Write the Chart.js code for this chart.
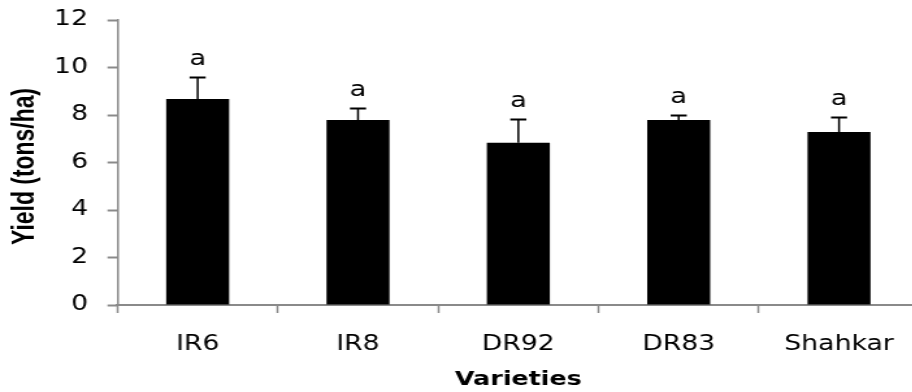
<!DOCTYPE html>
<html>
<head>
<meta charset="utf-8">
<script src="https://cdn.jsdelivr.net/npm/chart.js@4"></script>
<style>
  html, body { margin: 0; padding: 0; background: #fff; overflow: hidden; }
  #wrap { width: 924px; height: 392px; }
  /* the drawing is laid out narrow and widened horizontally on screen */
  #c { display: block; }
</style>
</head>
<body>
<div id="wrap"><canvas id="c" width="711" height="392" style="width:924px;height:392px"></canvas></div>
<script>
// Rice varieties and mean grain yield (tons/ha)
const varieties = ['IR6', 'IR8', 'DR92', 'DR83', 'Shahkar'];
const yieldMeans = [8.67, 7.79, 6.83, 7.79, 7.28];
const yieldErrors = [0.94, 0.52, 0.99, 0.22, 0.64];
const groupLetters = ['a', 'a', 'a', 'a', 'a'];
const yTickValues = [0, 2, 4, 6, 8, 10, 12];

const AXIS_GREY = '#8a8a8a';
const TEXT_FONT = "'DejaVu Sans', Verdana, sans-serif";

// Upper error bars and significance letters above each bar
const errorBarPlugin = {
  id: 'errorBars',
  afterDatasetsDraw(chart) {
    const ctx = chart.ctx;
    const y = chart.scales.y;
    const meta = chart.getDatasetMeta(0);
    ctx.save();
    ctx.strokeStyle = '#000';
    ctx.fillStyle = '#000';
    ctx.font = '21px ' + TEXT_FONT;
    ctx.textAlign = 'center';
    ctx.textBaseline = 'alphabetic';
    meta.data.forEach((bar, i) => {
      const x = bar.x;
      const yBase = y.getPixelForValue(yieldMeans[i]);
      const yTop = Math.round(y.getPixelForValue(yieldMeans[i] + yieldErrors[i])) + 0.5;
      ctx.lineWidth = 1.5;
      ctx.beginPath();
      ctx.moveTo(x, yBase);
      ctx.lineTo(x, yTop);
      ctx.stroke();
      ctx.lineWidth = 2;
      ctx.beginPath();
      ctx.moveTo(x - 6.2, yTop);
      ctx.lineTo(x + 6.2, yTop);
      ctx.stroke();
      ctx.fillText(groupLetters[i], x, yTop - 13);
    });
    ctx.restore();
  }
};

// Rotated y-axis title
const yTitlePlugin = {
  id: 'yTitle',
  afterDraw(chart) {
    const ctx = chart.ctx;
    const text = 'Yield (tons/ha)';
    ctx.save();
    ctx.font = "bold 23px 'Liberation Sans', Arial, sans-serif";
    const w = ctx.measureText(text).width;
    ctx.translate(25.8, 166.5);
    ctx.rotate(-Math.PI / 2);
    ctx.scale(157 / w, 1);
    ctx.fillStyle = '#000';
    ctx.textAlign = 'center';
    ctx.textBaseline = 'alphabetic';
    ctx.fillText(text, 0, 0);
    ctx.restore();
  }
};

new Chart(document.getElementById('c'), {
  type: 'bar',
  data: {
    labels: varieties,
    datasets: [{
      data: yieldMeans,
      backgroundColor: '#000',
      borderWidth: 0,
      categoryPercentage: 1.0,
      barPercentage: 0.393
    }]
  },
  options: {
    responsive: false,
    animation: false,
    devicePixelRatio: 1,
    layout: { padding: { left: 0, right: 3.7, top: 20, bottom: 0 } },
    plugins: { legend: { display: false }, tooltip: { enabled: false } },
    scales: {
      x: {
        grid: {
          offset: true,
          drawOnChartArea: false,
          drawTicks: true,
          tickLength: 8,
          tickWidth: 1.5,
          tickColor: AXIS_GREY
        },
        border: { display: true, color: AXIS_GREY, width: 2 },
        ticks: {
          color: '#000',
          font: { family: TEXT_FONT, size: 20.5 },
          padding: 19,
          maxRotation: 0
        },
        title: {
          display: true,
          text: 'Varieties',
          color: '#000',
          font: { family: TEXT_FONT, size: 19.5, weight: 'bold' },
          padding: { top: 0, bottom: 0 }
        },
        afterFit(scale) { scale.height = 87; }
      },
      y: {
        min: 0,
        max: 12,
        afterBuildTicks(scale) { scale.ticks = yTickValues.map(v => ({ value: v })); },
        grid: {
          drawOnChartArea: false,
          drawTicks: true,
          tickLength: 7.7,
          tickWidth: 2,
          tickColor: AXIS_GREY
        },
        border: { display: true, color: AXIS_GREY, width: 1.5 },
        ticks: {
          color: '#000',
          font: { family: TEXT_FONT, size: 20.5 },
          padding: 15
        },
        afterFit(scale) {
          scale.width = 90.4;
          scale.paddingTop = 0;
          scale.paddingBottom = 0;
        }
      }
    }
  },
  plugins: [errorBarPlugin, yTitlePlugin]
});
</script>
</body>
</html>
